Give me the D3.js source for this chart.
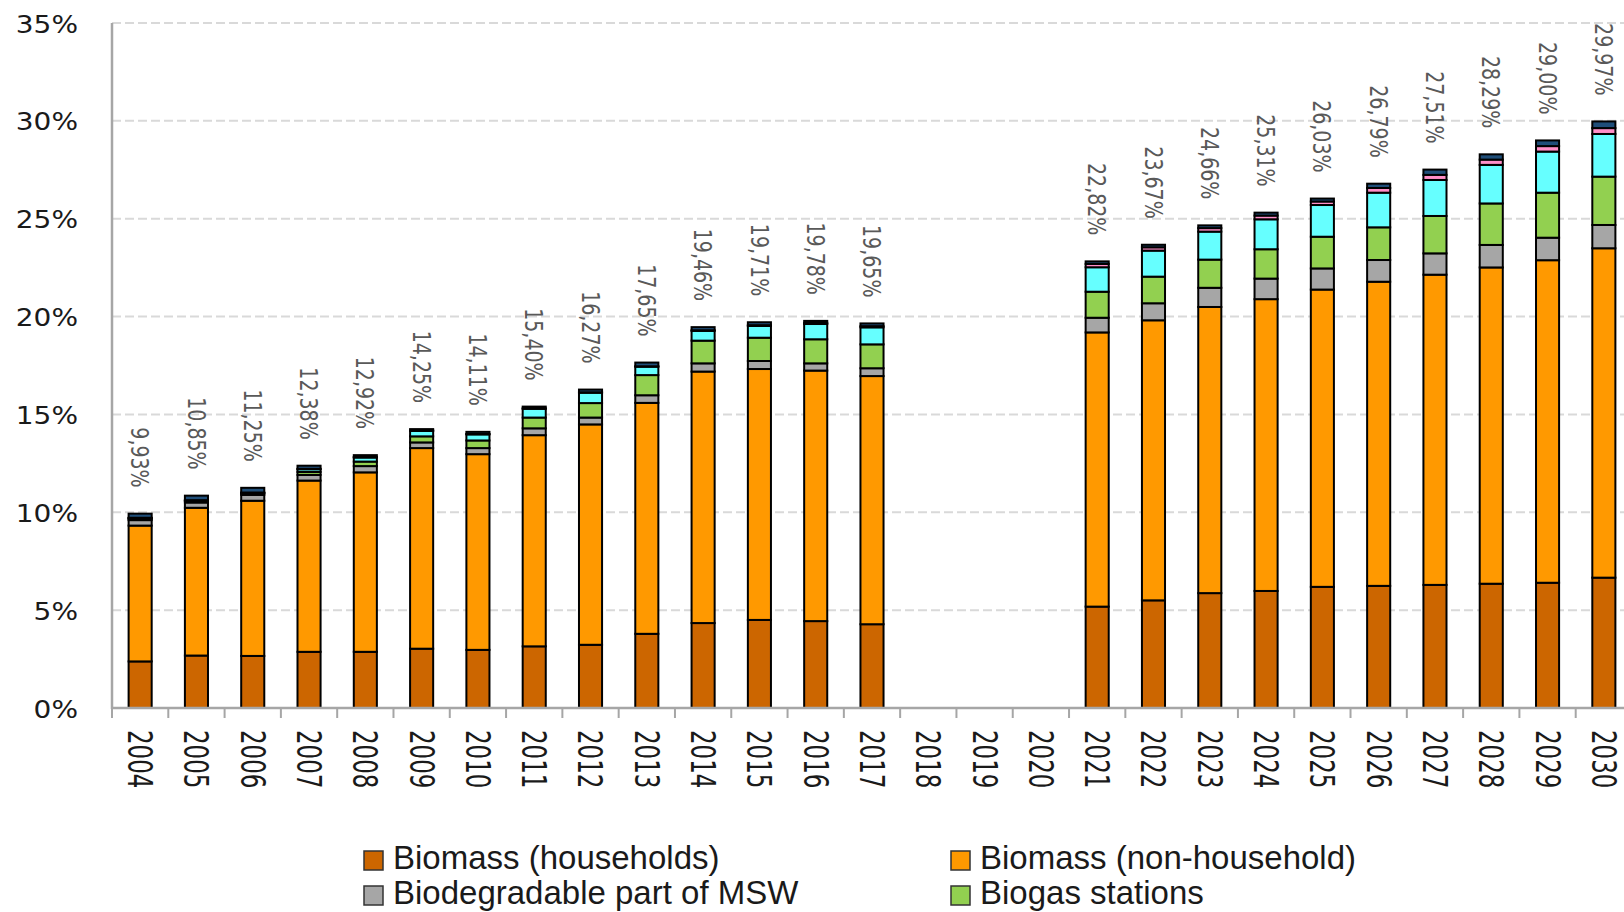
<!DOCTYPE html>
<html><head><meta charset="utf-8">
<script src="https://cdn.jsdelivr.net/npm/d3@7"></script>
<style>body{margin:0;background:#fff;} svg{display:block;}</style>
</head><body><svg id="chart" width="1624" height="912"></svg>
<script>
const years = ["2004","2005","2006","2007","2008","2009","2010","2011","2012","2013","2014","2015","2016","2017","2018","2019","2020","2021","2022","2023","2024","2025","2026","2027","2028","2029","2030"];
const biomassHouseholds = [2.38,2.68,2.66,2.87,2.87,3.03,2.97,3.15,3.23,3.79,4.34,4.50,4.44,4.28,null,null,null,5.18,5.50,5.87,5.98,6.19,6.24,6.29,6.35,6.40,6.66];
const biomassNonHousehold = [6.94,7.55,7.93,8.75,9.17,10.25,10.00,10.79,11.26,11.80,12.85,12.82,12.80,12.68,null,null,null,14.01,14.31,14.62,14.91,15.19,15.54,15.85,16.16,16.48,16.83];
const biodegradableMSW = [0.28,0.27,0.30,0.29,0.32,0.29,0.31,0.35,0.35,0.39,0.42,0.41,0.37,0.40,null,null,null,0.75,0.87,0.98,1.05,1.08,1.11,1.09,1.15,1.15,1.19];
const biogasStations = [0.08,0.08,0.08,0.15,0.23,0.31,0.39,0.55,0.74,1.03,1.16,1.19,1.23,1.22,null,null,null,1.33,1.36,1.44,1.50,1.62,1.67,1.91,2.12,2.30,2.47];
const seriesCyan = [0.02,0.02,0.02,0.14,0.21,0.28,0.31,0.45,0.53,0.43,0.50,0.60,0.78,0.87,null,null,null,1.25,1.33,1.43,1.53,1.62,1.77,1.84,1.97,2.10,2.18];
const seriesPink = [0.02,0.02,0.02,0.02,0.02,0.02,0.02,0.02,0.02,0.02,0.03,0.04,0.06,0.06,null,null,null,0.17,0.17,0.18,0.19,0.18,0.24,0.26,0.27,0.28,0.30];
const seriesNavy = [0.21,0.23,0.24,0.16,0.10,0.07,0.11,0.09,0.14,0.19,0.16,0.15,0.10,0.14,null,null,null,0.13,0.13,0.14,0.15,0.15,0.22,0.27,0.27,0.29,0.34];
const totalLabels = ["9,93%","10,85%","11,25%","12,38%","12,92%","14,25%","14,11%","15,40%","16,27%","17,65%","19,46%","19,71%","19,78%","19,65%",null,null,null,"22,82%","23,67%","24,66%","25,31%","26,03%","26,79%","27,51%","28,29%","29,00%","29,97%"];
const yTicks = [0,5,10,15,20,25,30,35];
const seriesKeys = ["hh","nonhh","msw","biogas","cyan","pink","navy"];
const seriesNames = ["Biomass (households)","Biomass (non-household)","Biodegradable part of MSW","Biogas stations"];
const seriesColors = ["#cc6600","#ff9900","#a6a6a6","#92d050","#66ffff","#ff8fc8","#1f4e79"];

const seriesArrays = [biomassHouseholds,biomassNonHousehold,biodegradableMSW,biogasStations,seriesCyan,seriesPink,seriesNavy];
const table = years.map((yr,i)=>{
  const row = {year: yr, label: totalLabels[i]};
  seriesKeys.forEach((k,j)=>{ row[k] = seriesArrays[j][i] || 0; });
  return row;
});

const svg = d3.select("#chart");
const mLeft = 112, mRight = 1632, mTop = 23, mBottom = 708;
const x = d3.scaleBand().domain(years).range([mLeft,mRight]).paddingInner(0.59).paddingOuter(0.295);
const y = d3.scaleLinear().domain([0,35]).range([mBottom,mTop]);

// gridlines
svg.append("g").selectAll("line").data(yTicks.filter(d=>d>0)).join("line")
  .attr("x1",mLeft).attr("x2",1624).attr("y1",d=>y(d)).attr("y2",d=>y(d))
  .attr("stroke","#d9d9d9").attr("stroke-width",2).attr("stroke-dasharray","9,4");

// y axis labels
const yAxis = svg.append("g").attr("transform",`translate(${mLeft},0)`)
  .call(d3.axisLeft(y).tickValues(yTicks).tickSize(0).tickFormat(d=>d+"%"));
yAxis.select(".domain").remove();
yAxis.selectAll("text").attr("x",0).attr("dy","0.36em")
  .attr("transform","translate(-34,0) scale(1.12,1)")
  .attr("font-family","DejaVu Sans").attr("font-size",25).attr("fill","#1a1a1a").attr("text-anchor","end");

// stacked bars
const stack = d3.stack().keys(seriesKeys)(table);
svg.append("g").selectAll("g").data(stack).join("g")
  .attr("fill",(d,i)=>seriesColors[i])
  .selectAll("rect").data(d=>d.filter(p=>p[1]-p[0]>0)).join("rect")
  .attr("x",d=>x(d.data.year)).attr("width",x.bandwidth())
  .attr("y",d=>y(d[1])).attr("height",d=>y(d[0])-y(d[1]))
  .attr("stroke","#000").attr("stroke-width",2);

// axes lines
svg.append("line").attr("x1",mLeft).attr("x2",1624).attr("y1",mBottom).attr("y2",mBottom)
  .attr("stroke","#a6a6a6").attr("stroke-width",2.5);
svg.append("line").attr("x1",mLeft).attr("x2",mLeft).attr("y1",mTop).attr("y2",mBottom+1)
  .attr("stroke","#a6a6a6").attr("stroke-width",2.5);
const bounds = years.map(d=>x(d)-(x.step()-x.bandwidth())/2);
svg.append("g").selectAll("line").data(bounds).join("line")
  .attr("x1",d=>d).attr("x2",d=>d).attr("y1",mBottom).attr("y2",mBottom+10)
  .attr("stroke","#a6a6a6").attr("stroke-width",2);

// x labels
const xAxis = svg.append("g").attr("transform",`translate(0,${mBottom})`)
  .call(d3.axisBottom(x).tickSize(0));
xAxis.select(".domain").remove();
xAxis.selectAll("text").attr("x",0).attr("y",0).attr("dy","0.36em")
  .attr("transform","translate(0,22) rotate(90) scale(1,1.45)")
  .attr("text-anchor","start")
  .attr("font-family","DejaVu Sans").attr("font-size",23).attr("fill","#1a1a1a");

// value labels
svg.append("g").selectAll("text").data(table.filter(d=>d.label)).join("text")
  .attr("transform",d=>{
    const tot = seriesKeys.reduce((s,k)=>s+d[k],0);
    return `translate(${x(d.year)+x.bandwidth()/2},${y(tot)-26}) rotate(90) scale(1,1.3)`;
  })
  .attr("dy","0.36em").attr("text-anchor","end")
  .attr("font-family","DejaVu Sans").attr("font-size",19).attr("fill","#595959")
  .text(d=>d.label);

// legend
const legendPos = [[364,851],[951,851],[364,886],[951,886]];
const lg = svg.append("g").selectAll("g").data(seriesNames).join("g")
  .attr("transform",(d,i)=>`translate(${legendPos[i][0]},${legendPos[i][1]})`);
lg.append("rect").attr("width",19).attr("height",19)
  .attr("fill",(d,i)=>seriesColors[i]).attr("stroke","#333").attr("stroke-width",1.5);
lg.append("text").attr("x",29).attr("y",18).text(d=>d)
  .attr("font-family","Liberation Sans").attr("font-size",33).attr("fill","#1a1a1a");
</script></body></html>
